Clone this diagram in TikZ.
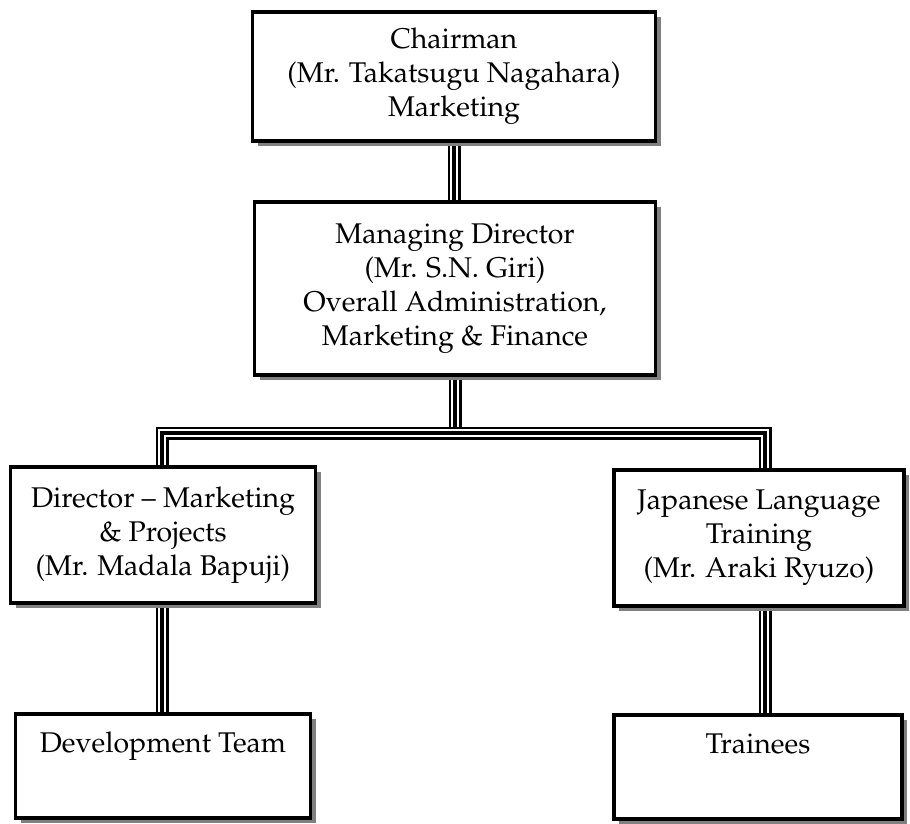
\documentclass[tikz,border=0pt]{standalone}
\usepackage[T1]{fontenc}
\usepackage{mathpazo}
\usepackage{tikz}
\usetikzlibrary{shadows,backgrounds}

\tikzset{
  post/.style={draw, line width=3.5pt, fill=white, align=center, inner sep=0pt,
    font=\fontsize{28.5}{34}\selectfont,
    drop shadow={shadow xshift=5pt, shadow yshift=-5pt, fill=gray, opacity=1}},
  toptext/.style={text height=28pt, text depth=56pt, inner ysep=10pt},
  triple/.style={line width=13pt,
    postaction={draw=white, line width=8pt},
    postaction={draw=black, line width=4.5pt}},
}

\begin{document}
\begin{tikzpicture}[x=1pt, y=-1pt]
    \useasboundingbox (0,0) rectangle (910,823);

    % the boxes
    \node[post, minimum width=403pt, minimum height=129pt] (chair) at (454,76.5)
        {Chairman\\(Mr. Takatsugu Nagahara)\\Marketing};
    \node[post, minimum width=401pt, minimum height=173pt] (md) at (455,288.5)
        {Managing Director\\(Mr. S.N. Giri)\\Overall Administration,\\Marketing \& Finance};
    \node[post, minimum width=305pt, minimum height=136pt] (dir) at (163,535)
        {Director -- Marketing\\\& Projects\\(Mr. Madala Bapuji)};
    \node[post, minimum width=290pt, minimum height=136pt] (jlt) at (759,538)
        {Japanese Language\\Training\\(Mr. Araki Ryuzo)};
    \node[post, toptext, minimum width=295pt, minimum height=100pt] (dev) at (163,766)
        {Development Team};
    \node[post, toptext, minimum width=288pt, minimum height=100pt] (trn) at (758,767)
        {Trainees};

    \coordinate (busL) at (162,433);
    \coordinate (busR) at (765,433);

    % the links
    \begin{pgfonlayer}{background}
        \draw[triple] (chair.south) -- (chair.south |- md.north);
        \draw[triple] (md.south) -- (md.south |- busL);
        \draw[triple] (dir.north -| busL) -- (busL) -- (busR) -- (jlt.north -| busR);
        \draw[triple] (dir.south -| busL) -- (dev.north -| busL);
        \draw[triple] (jlt.south -| busR) -- (trn.north -| busR);
    \end{pgfonlayer}
\end{tikzpicture}
\end{document}
